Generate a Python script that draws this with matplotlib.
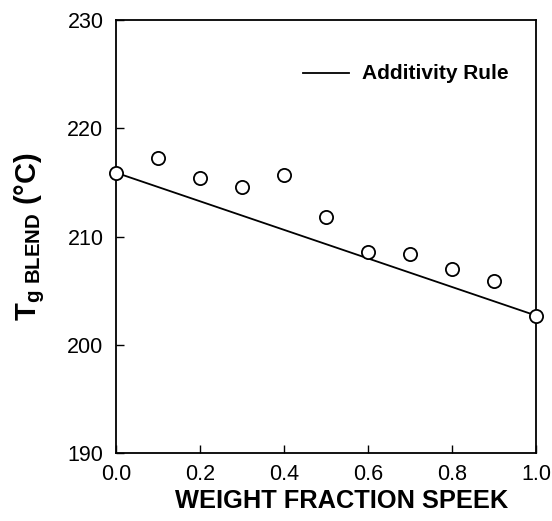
import matplotlib.pyplot as plt

plt.rcParams['font.family'] = ['Liberation Sans', 'DejaVu Sans']
plt.rcParams['mathtext.fontset'] = 'custom'
plt.rcParams['mathtext.rm'] = 'Liberation Sans'
plt.rcParams['mathtext.bf'] = 'Liberation Sans:bold'

# Dữ liệu
weight_fraction = [0.0, 0.1, 0.2, 0.3, 0.4, 0.5, 0.6, 0.7, 0.8, 0.9, 1.0]
tg_blend = [215.9, 217.3, 215.4, 214.6, 215.7, 211.85, 208.6, 208.4, 207.0, 205.9, 202.7]
additivity_x = [0.0, 1.0]
additivity_y = [215.9, 202.7]

fig = plt.figure(figsize=(5.52, 5.21), dpi=100)
ax = fig.add_axes([0.210, 0.1305, 0.761, 0.831])

ax.plot(additivity_x, additivity_y, color='black', lw=1.3)
ax.plot(weight_fraction, tg_blend, 'o', mfc='white', mec='black', ms=9.5, mew=1.3,
        clip_on=False, zorder=3)

# Chú thích
ax.plot([0.445, 0.555], [225.1, 225.1], color='black', lw=1.3)
ax.text(0.585, 225.1, 'Additivity Rule', fontsize=15, fontweight='bold', va='center')

ax.set_xlim(0, 1)
ax.set_ylim(190, 230)
ax.set_xticks([0.0, 0.2, 0.4, 0.6, 0.8, 1.0])
ax.set_yticks([190, 200, 210, 220, 230])
ax.set_xticklabels(['0.0', '0.2', '0.4', '0.6', '0.8', '1.0'])
ax.tick_params(direction='in', length=6, width=1, labelsize=15.5)
ax.tick_params(axis='y', pad=9)
ax.tick_params(axis='x', pad=8)

ax.set_xlabel('WEIGHT FRACTION SPEEK', fontsize=18.3, fontweight='bold')
ax.xaxis.set_label_coords(0.538, -0.083)
ax.set_ylabel(r'$\mathbf{T}_{\mathbf{g\ BLEND}}$ (°C)', fontsize=21, fontweight='bold')
ax.yaxis.set_label_coords(-0.165, 0.5)

for s in ax.spines.values():
    s.set_linewidth(1.3)

plt.savefig('out.png', dpi=100)
